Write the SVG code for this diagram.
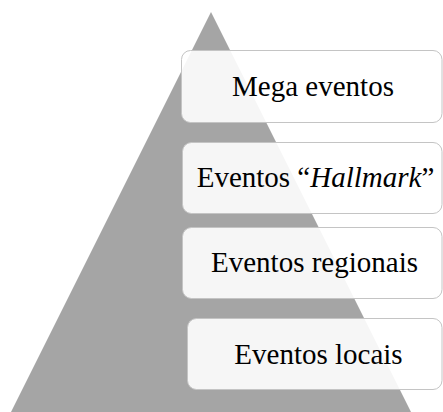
<svg xmlns="http://www.w3.org/2000/svg" width="443" height="412" viewBox="0 0 443 412">
<style>
.box{fill:#ffffff;fill-opacity:0.9;stroke:#c4c4c4;stroke-width:1}
.lbl{font-size:29px;fill:#000000;text-anchor:middle}
</style>
<rect x="0" y="0" width="443" height="412" fill="#ffffff"/>
<g id="pyramid"><polygon points="211,12 11,412 411,412" fill="#a5a5a5"/></g>
<g id="connectors"></g>
<g font-family="'Liberation Serif', 'Times New Roman', Times, serif">
<g id="mega"><rect class="box" x="181.5" y="50.5" width="260.5" height="72" rx="9"/><text class="lbl" x="313" y="95.5">Mega eventos</text></g>
<g id="hallmark"><rect class="box" x="182.5" y="142.5" width="259.5" height="71" rx="9"/><text class="lbl" x="315.5" y="187">Eventos “<tspan font-style="italic">Hallmark</tspan>”</text></g>
<g id="regionais"><rect class="box" x="182.5" y="227.5" width="259.5" height="71" rx="9"/><text class="lbl" x="314.5" y="272">Eventos regionais</text></g>
<g id="locais"><rect class="box" x="187.5" y="318.5" width="254.5" height="71" rx="9"/><text class="lbl" x="318.5" y="363.5">Eventos locais</text></g>
</g>
</svg>
